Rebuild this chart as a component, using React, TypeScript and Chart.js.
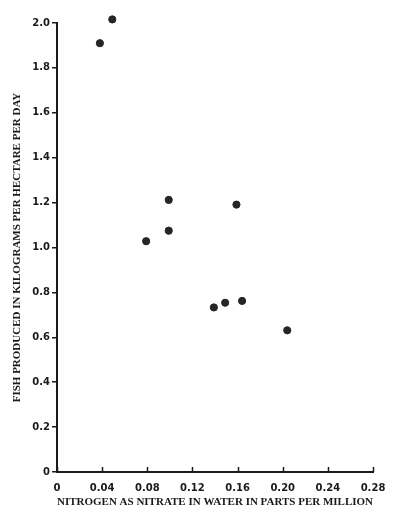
import React, { useEffect, useRef } from "react";
import { Chart, registerables } from "chart.js";

Chart.register(...registerables);

const nitrogenPpm = [0.038, 0.049, 0.079, 0.099, 0.099, 0.159, 0.139, 0.149, 0.164, 0.204];
const fishKgPerHaDay = [1.91, 2.016, 1.028, 1.212, 1.075, 1.191, 0.733, 0.754, 0.762, 0.631];

const xTitle = "NITROGEN AS NITRATE IN WATER IN PARTS PER MILLION";
const yTitle = "FISH PRODUCED IN KILOGRAMS PER HECTARE PER DAY";

const xMin = 0;
const xMax = 0.28;
const xStep = 0.04;
const yMin = 0;
const yMax = 2.0;
const yStep = 0.2;

const ink = "#1a1a1a";

const innerXTicks = {
  id: "innerXTicks",
  afterDraw(chart: any) {
    const xs = chart.scales.x;
    const ys = chart.scales.y;
    const ctx = chart.ctx;
    const base = ys.getPixelForValue(0);
    ctx.save();
    ctx.strokeStyle = ink;
    ctx.lineWidth = 1.5;
    xs.ticks.forEach((t: any) => {
      const px = Math.round(xs.getPixelForValue(t.value)) + 0.5;
      ctx.beginPath();
      ctx.moveTo(px, base);
      ctx.lineTo(px, base - 5);
      ctx.stroke();
    });
    ctx.restore();
  },
};

export default function App() {
  const ref = useRef<HTMLCanvasElement | null>(null);

  useEffect(() => {
    if (!ref.current) return;
    const points = nitrogenPpm.map((x, i) => ({ x, y: fishKgPerHaDay[i] }));
    const chart = new Chart(ref.current, {
      type: "scatter",
      data: {
        datasets: [
          {
            data: points,
            backgroundColor: "#262626",
            borderColor: "#262626",
            pointRadius: 3.6,
            pointHoverRadius: 3.6,
            clip: false as any,
          },
        ],
      },
      options: {
        animation: false,
        responsive: false,
        maintainAspectRatio: false,
        events: [],
        layout: { padding: { left: 0, top: 23, right: 27, bottom: 0 } },
        plugins: {
          legend: { display: false },
          tooltip: { enabled: false },
        },
        scales: {
          x: {
            type: "linear",
            min: xMin,
            max: xMax,
            afterFit: (s: any) => {
              s.height = 44;
            },
            ticks: {
              stepSize: xStep,
              padding: 10,
              color: ink,
              font: { family: "DejaVu Sans", weight: "bold", size: 10 },
              maxRotation: 0,
              autoSkip: false,
              callback: (v: any) => (Number(v) === 0 ? "0" : Number(v).toFixed(2)),
            },
            grid: { display: true, drawOnChartArea: false, drawTicks: false },
            border: { display: true, color: ink, width: 2 },
            title: {
              display: true,
              text: xTitle,
              color: ink,
              font: { family: "Liberation Serif", weight: "bold", size: 11 },
              padding: { top: 0, bottom: 7 },
            },
          },
          y: {
            type: "linear",
            min: yMin,
            max: yMax,
            afterFit: (s: any) => {
              s.width = 57;
            },
            ticks: {
              stepSize: yStep,
              padding: 2,
              color: ink,
              font: { family: "DejaVu Sans", weight: "bold", size: 10 },
              autoSkip: false,
              callback: (v: any) => (Number(v) === 0 ? "0" : Number(v).toFixed(1)),
            },
            grid: {
              display: true,
              drawOnChartArea: false,
              drawTicks: true,
              tickLength: 5,
              color: ink,
              lineWidth: 1.5,
            },
            border: { display: true, color: ink, width: 2 },
            title: {
              display: true,
              text: yTitle,
              color: ink,
              font: { family: "Liberation Serif", weight: "bold", size: 11 },
              padding: { top: 11, bottom: 0 },
            },
          },
        },
      },
      plugins: [innerXTicks],
    });
    return () => chart.destroy();
  }, []);

  return (
    <div style={{ position: "fixed", left: 0, top: 0, width: 400, height: 516, background: "#fff" }}>
      <canvas ref={ref} width={400} height={516} style={{ width: 400, height: 516, display: "block" }} />
    </div>
  );
}
